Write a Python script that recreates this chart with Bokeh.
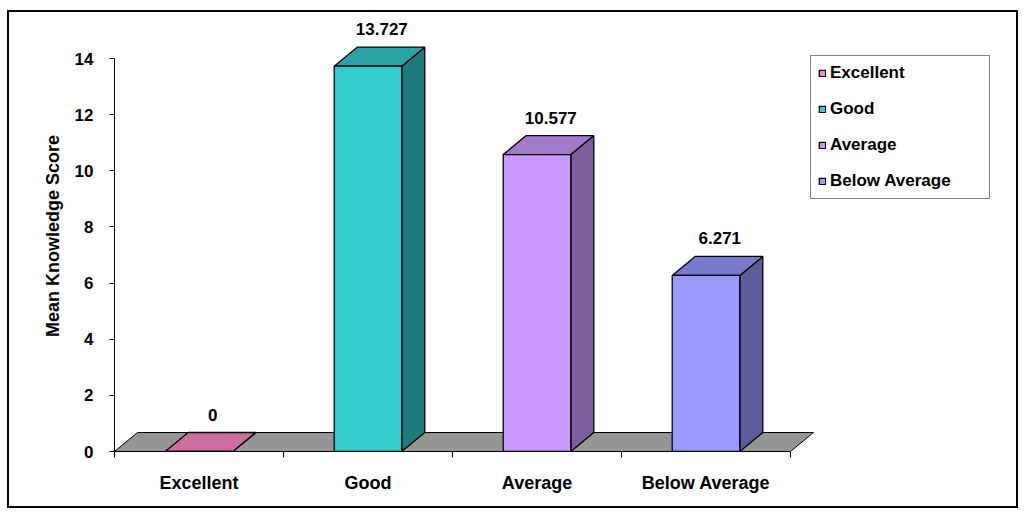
from bokeh.plotting import figure
from bokeh.models import ColumnDataSource, Range1d, FixedTicker
from bokeh.core.properties import value
from bokeh.embed import file_html
from bokeh.resources import INLINE

# ---- data ----
categories = ["Excellent", "Good", "Average", "Below Average"]
scores = [0, 13.727, 10.577, 6.271]
score_labels = ["0", "13.727", "10.577", "6.271"]
y_ticks = [0, 2, 4, 6, 8, 10, 12, 14]
y_title = "Mean Knowledge Score"

# ---- styles ----
front_colors = ["#FF8AC8", "#33CCCC", "#CC99FF", "#9999FF"]
top_colors = ["#CC6EA0", "#29A3A3", "#A37ACC", "#7A7ACC"]
side_colors = ["#995378", "#1E7B7B", "#7E5E9E", "#5E5E9E"]
floor_color = "#969696"
FONT = "Liberation Sans"

PX_X = 169.0     # pixels per category
PX_Y = 28.07     # pixels per unit
DX = 23.0 / PX_X # 3D depth offset (x)
DY = 19.0 / PX_Y # 3D depth offset (y)
BW = 0.2         # half bar width (category units)

OX, OY = 9, 12                      # canvas origin inside the bordered box
W, H = 1011, 498
FL, FR, FT, FB = 114 - OX, 1015 - OX, 20 - OY, 451 - OY  # frame edges (canvas px)

n = len(categories)
centers = [i + 0.5 for i in range(n)]

p = figure(width=W, height=H, output_backend="svg", toolbar_location=None,
           title=None,
           x_range=Range1d(0, (FR - FL) / PX_X),
           y_range=Range1d(0, (FB - FT) / PX_Y),
           min_border_left=FL, min_border_right=W - FR,
           min_border_top=FT, min_border_bottom=H - FB,
           margin=(10, 0, 0, 7),
           styles={"border": "2px solid black"})
p.outline_line_color = None
p.xgrid.visible = False
p.ygrid.visible = False
p.background_fill_color = "white"
p.border_fill_color = "white"

# floor
p.patch([0, n, n + DX, DX], [0, 0, DY, DY], fill_color=floor_color,
        line_color="black", line_width=1)

# bars
side_xs, side_ys, top_xs, top_ys = [], [], [], []
for c, v in zip(centers, scores):
    side_xs.append([c + BW, c + BW + DX, c + BW + DX, c + BW])
    side_ys.append([0, DY, v + DY, v])
    top_xs.append([c - BW, c + BW, c + BW + DX, c - BW + DX])
    top_ys.append([v, v, v + DY, v + DY])

p.patches(side_xs, side_ys, fill_color=side_colors, line_color="black", line_width=1.3)
p.patches(top_xs, top_ys, fill_color=top_colors, line_color="black", line_width=1.3)

src = ColumnDataSource(dict(
    left=[c - BW for c in centers], right=[c + BW for c in centers],
    top=scores, bottom=[0] * n, color=front_colors, category=categories,
))
p.quad(left="left", right="right", top="top", bottom="bottom", source=src,
       fill_color="color", line_color="black", line_width=1.3,
       legend_field="category")

# value labels
lab = ColumnDataSource(dict(x=[c + DX * 0.6 for c in centers],
                            y=[v + DY for v in scores], t=score_labels))
p.text(x="x", y="y", text="t", source=lab, text_align="center",
       text_baseline="alphabetic", y_offset=-18,
       text_font=value(FONT), text_font_style="bold", text_font_size="17px",
       text_color="black")

# y axis
ya = p.yaxis[0]
ya.ticker = FixedTicker(ticks=y_ticks)
ya.bounds = (0, y_ticks[-1])
ya.major_tick_out = 5
ya.major_tick_in = 0
ya.minor_tick_out = 0
ya.minor_tick_in = 0
ya.axis_line_color = "black"
ya.major_tick_line_color = "black"
ya.major_label_text_color = "black"
ya.major_label_text_font = FONT
ya.major_label_text_font_style = "bold"
ya.major_label_text_font_size = "17px"
ya.major_label_standoff = 16
ya.axis_label = y_title
ya.axis_label_text_color = "black"
ya.axis_label_text_font = FONT
ya.axis_label_text_font_style = "bold"
ya.axis_label_text_font_size = "18px"
ya.axis_label_standoff = 9

# x axis
xa = p.xaxis[0]
xa.ticker = FixedTicker(ticks=centers, minor_ticks=list(range(n + 1)))
xa.major_label_overrides = {c: name for c, name in zip(centers, categories)}
xa.bounds = (0, n)
xa.major_tick_out = 0
xa.major_tick_in = 0
xa.minor_tick_out = 6
xa.minor_tick_in = 0
xa.minor_tick_line_color = "black"
xa.axis_line_color = "black"
xa.major_label_text_color = "black"
xa.major_label_text_font = FONT
xa.major_label_text_font_style = "bold"
xa.major_label_text_font_size = "18px"
xa.major_label_standoff = 15

# legend
lg = p.legend[0]
lg.location = (696, 252)
lg.margin = 0
lg.padding = 7
lg.spacing = 16
lg.glyph_width = 8
lg.glyph_height = 8
lg.label_height = 20
lg.label_standoff = 4
lg.label_width = 152
lg.label_text_color = "black"
lg.label_text_font = FONT
lg.label_text_font_style = "bold"
lg.label_text_font_size = "17px"
lg.border_line_color = "black"
lg.border_line_width = 1
lg.background_fill_color = "white"
lg.background_fill_alpha = 1

open("out.html", "w").write(file_html(p, INLINE))
